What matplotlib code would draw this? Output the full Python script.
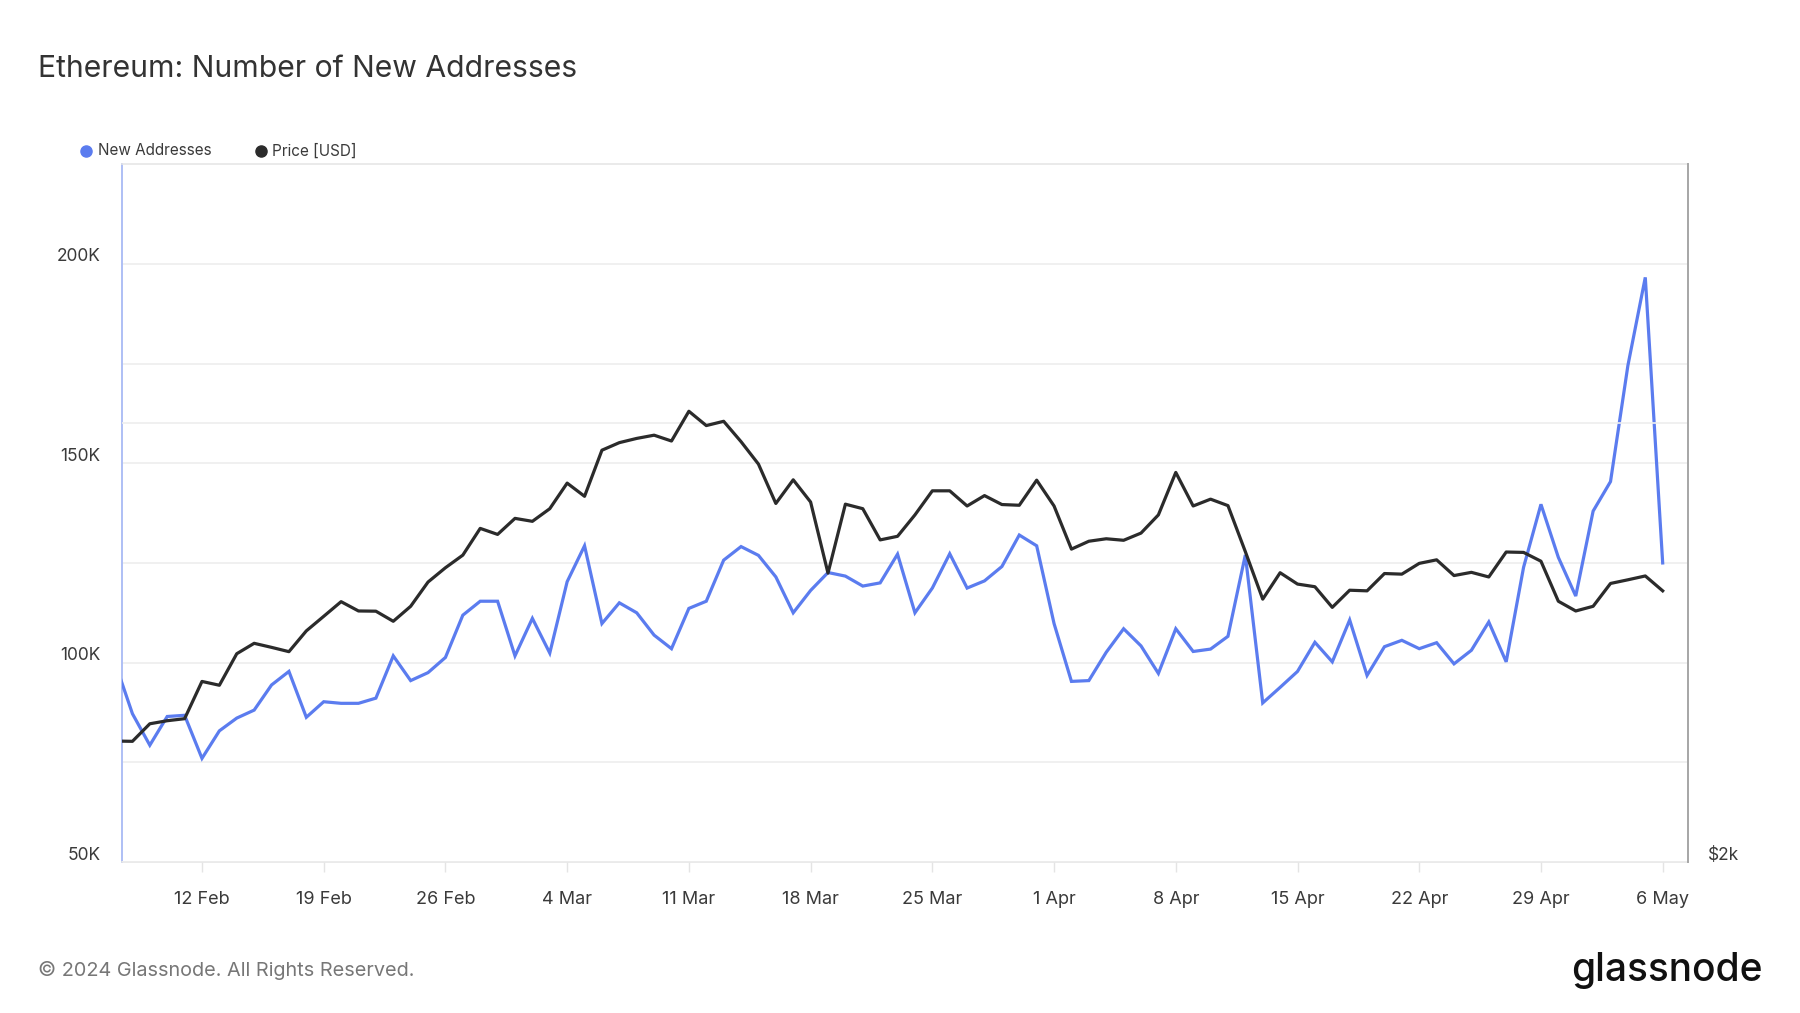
import pandas as pd
import matplotlib.pyplot as plt
import matplotlib.dates as mdates
from matplotlib.lines import Line2D
from matplotlib.transforms import ScaledTranslation
from matplotlib.ticker import FixedLocator, FuncFormatter, NullLocator

plt.rcParams['font.family'] = ['Inter', 'DejaVu Sans']

# Daily data, 7 Feb 2024 - 6 May 2024
dates = pd.date_range('2024-02-07', '2024-05-06', freq='D')

new_addresses_k = [
    # Feb 7-29
    100.0, 87.2, 79.3, 86.5, 86.8, 76.0, 82.9, 86.1, 88.1, 94.4, 97.8, 86.3,
    90.2, 89.8, 89.8, 91.1, 101.7, 95.5, 97.5, 101.3, 111.9, 115.4, 115.4,
    # Mar 1-31
    101.7, 111.1, 102.4, 120.3, 129.3, 109.8, 115.0, 112.5, 106.9, 103.5,
    113.6, 115.4, 125.7, 129.1, 126.9, 121.5, 112.5, 118.1, 122.6, 121.7,
    119.2, 120.0, 127.2, 112.5, 118.7, 127.3, 118.7, 120.5, 124.1, 132.0, 129.3,
    # Apr 1-30
    109.8, 95.3, 95.5, 102.6, 108.5, 104.2, 97.3, 108.5, 102.8, 103.4,
    106.6, 127.0, 89.9, 93.8, 97.8, 105.1, 100.2, 110.7, 96.8, 104.0,
    105.6, 103.5, 105.0, 99.7, 103.1, 110.2, 100.2, 123.9, 139.7, 126.4,
    # May 1-6
    116.7, 138.0, 145.4, 174.5, 196.6, 125.0,
]

price_usd = [
    # Feb 7-29
    2421, 2420, 2488, 2500, 2508, 2660, 2644, 2779, 2825, 2807, 2788, 2881,
    2948, 3017, 2973, 2972, 2925, 2995, 3112, 3183, 3247, 3387, 3355,
    # Mar 1-31
    3441, 3425, 3494, 3638, 3563, 3832, 3878, 3904, 3924, 3888, 4075, 3984,
    4011, 3884, 3749, 3523, 3657, 3531, 3156, 3519, 3494, 3326, 3345, 3460,
    3594, 3594, 3509, 3567, 3517, 3513, 3655,
    # Apr 1-30
    3509, 3278, 3319, 3332, 3324, 3362, 3460, 3700, 3509, 3547, 3511, 3265,
    3029, 3158, 3102, 3089, 2990, 3072, 3069, 3154, 3151, 3205, 3223, 3144,
    3160, 3137, 3263, 3261, 3216, 3019,
    # May 1-6
    2973, 2995, 3105, 3123, 3142, 3069,
]

left_ticks = [50000, 75000, 100000, 125000, 150000, 175000, 200000]
tick_dates = pd.date_range('2024-02-12', '2024-05-06', freq='7D')

blue = '#5b7cef'
dark = '#2b2b2b'
grid_c = '#eeeeee'
text_c = '#3a3a3a'

fig = plt.figure(figsize=(18, 10.13), dpi=100)
ax = fig.add_axes([0.0678, 0.149, 0.8700, 0.689])

addr = [v * 1000 for v in new_addresses_k]
ax.plot(dates, addr, color=blue, lw=2.3, solid_joinstyle='miter', zorder=3)
ax.set_ylim(50000, 225000)
ax.set_xlim(pd.Timestamp('2024-02-07 09:40'), pd.Timestamp('2024-05-07 11:00'))

ax.yaxis.set_major_locator(FixedLocator(left_ticks))
ax.yaxis.set_major_formatter(FuncFormatter(
    lambda v, p: f'{int(v / 1000)}K' if v % 50000 == 0 else ''))
ax.grid(axis='y', color=grid_c, lw=1.2)
ax.tick_params(axis='y', length=0, pad=15.5, labelsize=12.5, labelcolor=text_c)

ax.xaxis.set_major_locator(FixedLocator(mdates.date2num(tick_dates)))
ax.xaxis.set_major_formatter(mdates.DateFormatter('%-d %b'))
ax.tick_params(axis='x', length=7, width=1, color='#e4e4e4', pad=13.5,
               labelsize=13, labelcolor=text_c)

for s in ['top', 'bottom']:
    ax.spines[s].set_color('#e6e6e6')
    ax.spines[s].set_linewidth(1.2)
ax.spines['left'].set_color('#aebff5')
ax.spines['left'].set_linewidth(1.4)
ax.spines['right'].set_visible(False)

# Price on log scale, right axis
ax2 = ax.twinx()
ax2.plot(dates, price_usd, color=dark, lw=2.3, zorder=4)
ax2.set_yscale('log')
ax2.set_ylim(2000, 6020)
ax2.yaxis.set_major_locator(FixedLocator([2000, 4000]))
ax2.yaxis.set_minor_locator(NullLocator())
ax2.yaxis.set_major_formatter(FuncFormatter(lambda v, p: '$2k' if v == 2000 else ''))
ax2.grid(axis='y', color=grid_c, lw=1.2)
ax2.tick_params(axis='y', length=0, pad=14, labelsize=12.5, labelcolor=text_c)
ax2.spines['right'].set_color('#a6a6a6')
ax2.spines['right'].set_linewidth(1.4)
for s in ['top', 'bottom', 'left']:
    ax2.spines[s].set_visible(False)

# y labels sit a little above their grid lines
shift = ScaledTranslation(0, 0.09, fig.dpi_scale_trans)
for t in ax.yaxis.get_major_ticks() + ax2.yaxis.get_major_ticks():
    t.label1.set_transform(t.label1.get_transform() + shift)
    t.label2.set_transform(t.label2.get_transform() + shift)

# Title
fig.text(0.021, 0.932, 'Ethereum: Number of New Addresses', fontsize=21.7,
         color='#333333', va='center', ha='left')

# Legend
fig.add_artist(Line2D([0.0478], [0.851], marker='o', color=blue, ms=8,
                      transform=fig.transFigure, lw=0))
fig.text(0.0542, 0.851, 'New Addresses', fontsize=11, color=text_c, va='center')
fig.add_artist(Line2D([0.145], [0.851], marker='o', color=dark, ms=8,
                      transform=fig.transFigure, lw=0))
fig.text(0.151, 0.851, 'Price [USD]', fontsize=11, color=text_c, va='center')

# Footer
fig.text(0.021, 0.042, '\u00a9 2024 Glassnode. All Rights Reserved.', fontsize=14.3,
         color='#777777', va='center', ha='left')
fig.text(0.979, 0.042, 'glassnode', fontsize=28, color='#111111',
         va='center', ha='right', fontweight='medium')

plt.savefig('out.png', dpi=100)
